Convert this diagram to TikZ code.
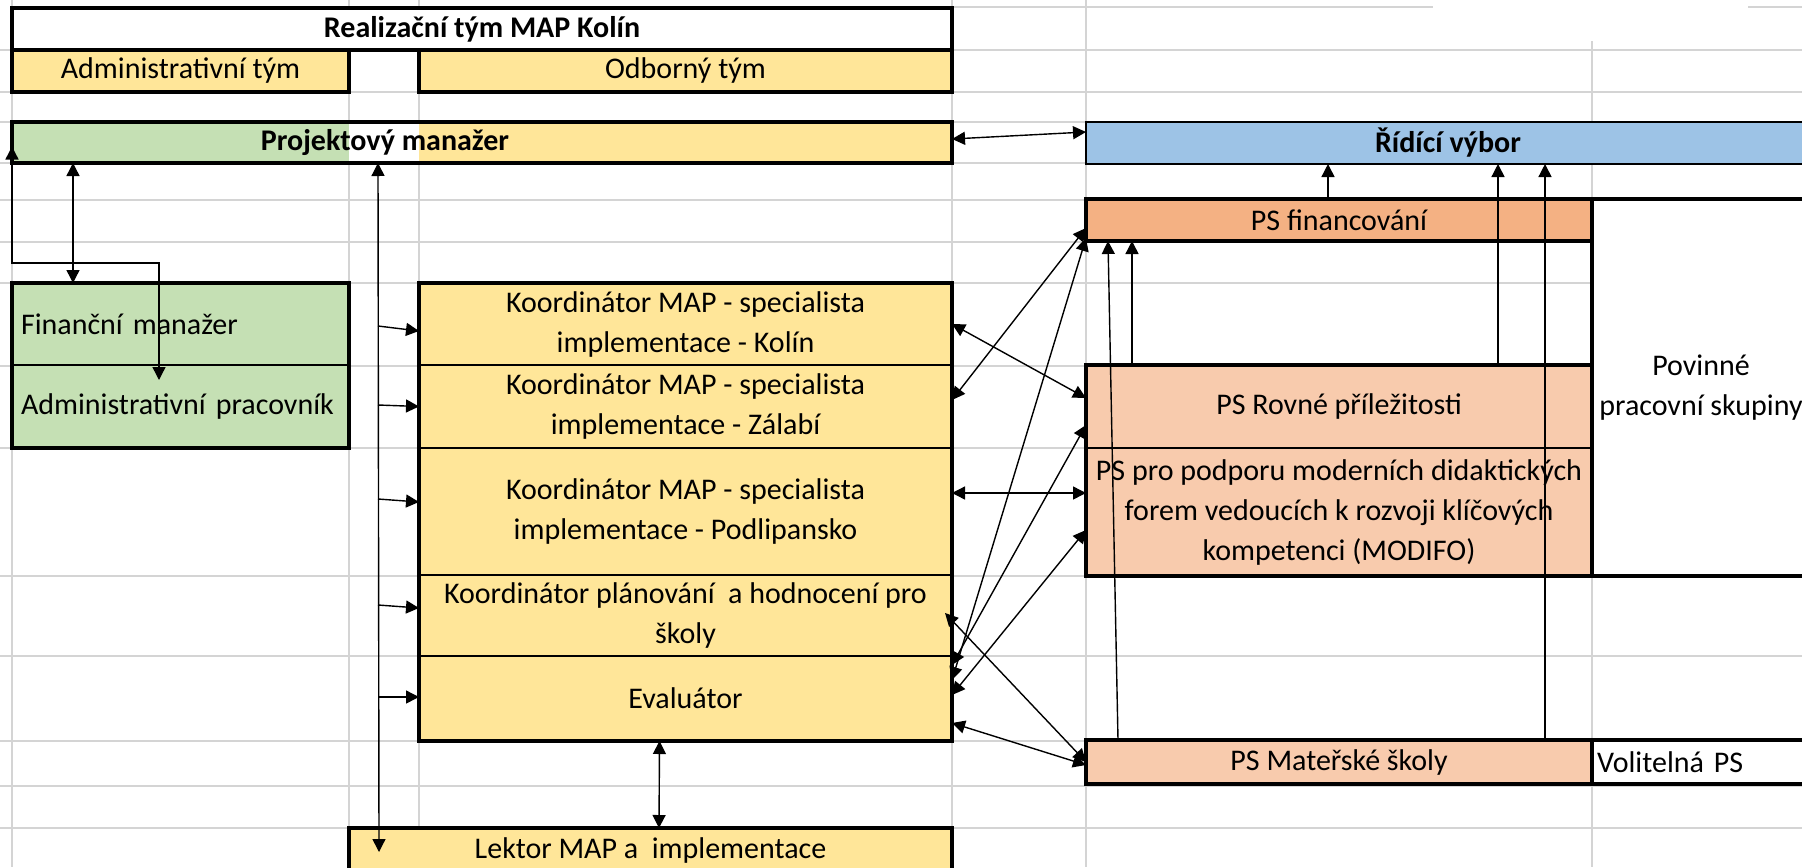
\documentclass[tikz,border=0pt]{standalone}
\usepackage{fontspec}
\setmainfont{Carlito}
\usetikzlibrary{arrows.meta}
\definecolor{yel}{HTML}{FFE699}
\definecolor{grn}{HTML}{C5E0B4}
\definecolor{blu}{HTML}{9DC3E6}
\definecolor{org}{HTML}{F4B183}
\definecolor{lor}{HTML}{F8CBAD}
\definecolor{grd}{HTML}{D4D4D4}
\begin{document}
\begin{tikzpicture}[x=0.5pt,y=-0.5pt,
  box/.style={draw=black, line width=0.8pt, inner sep=0pt, outer sep=0pt, align=center,
    anchor=north west, font=\fontsize{15}{20}\selectfont},
  thickb/.style={draw=black, line width=1.6pt},
  tbox/.style={box, line width=1.6pt},
  lbox/.style={box, align=left, inner xsep=4.5pt},
  gridl/.style={draw=grd, line width=0.8pt},
  con/.style={line width=0.7pt, {Triangle[length=6.5pt,width=6.5pt]}-{Triangle[length=6.5pt,width=6.5pt]}},
  one/.style={line width=0.7pt, -{Triangle[length=6.5pt,width=6.5pt]}},
]
\useasboundingbox (0,0) rectangle (1802,867);
\clip (0,0) rectangle (1802,867);
\fill[white] (0,0) rectangle (1802,867);
% spreadsheet grid
\foreach \x in {12,349,419,952,1086} \draw[gridl] (\x,0) -- (\x,867);
\draw[gridl] (1592,41) -- (1592,867);
\foreach \y in {50,92,122,163,200,242,283,366,448,576,656,741,786,828} \draw[gridl] (0,\y) -- (1802,\y);
\draw[gridl] (952,7) -- (1433,7);
\draw[gridl] (1748,7) -- (1802,7);

% top
\node[tbox, fill=white, minimum width=470pt, minimum height=21pt] (title) at (12,8) {\bfseries Realizační tým MAP Kolín};
\node[tbox, fill=yel, minimum width=168.5pt, minimum height=21pt] (admteam) at (12,50) {Administrativní tým};
\node[tbox, fill=yel, minimum width=266.5pt, minimum height=21pt] (odbteam) at (419,50) {Odborný tým};

\fill[grn] (12,122) rectangle (349,163);
\fill[white] (349,122) rectangle (419,163);
\fill[yel] (419,122) rectangle (952,163);
\node[tbox, minimum width=470pt, minimum height=20.5pt] (pm) at (12,122) {};
\node[font=\fontsize{15}{20}\selectfont\bfseries, inner sep=0pt] (pmlabel) at (385,143) {Projektový manažer};

\node[box, fill=blu, line width=1pt, minimum width=362pt, minimum height=21pt] (ridici) at (1086,122) {\bfseries Řídící výbor};

% right side
\node[tbox, fill=white, minimum width=109pt, minimum height=188.5pt] (povinne) at (1592,199) {Povinné\\pracovní skupiny};
\node[tbox, fill=org, minimum width=253pt, minimum height=21pt] (psfin) at (1086,199) {PS financování};
\node[box, fill=lor, minimum width=253pt, minimum height=41.5pt] (psrovne) at (1086,365) {PS Rovné příležitosti};
\node[box, fill=lor, minimum width=253pt, minimum height=64pt] (psmodifo) at (1086,448) {PS pro podporu moderních didaktických\\forem vedoucích k rozvoji klíčových\\kompetenci (MODIFO)};
\draw[thickb] (psrovne.north west) rectangle (psmodifo.south east);
\node[tbox, fill=white, text width=106pt, inner xsep=2.5pt, align=left, minimum height=22pt] (volitelna) at (1592,740) {Volitelná PS};
\node[tbox, fill=lor, minimum width=253pt, minimum height=22pt] (psmat) at (1086,740) {PS Mateřské školy};

% left side
\node[lbox, fill=grn, text width=159.5pt, minimum height=41pt] (finman) at (12,283) {Finanční manažer};
\node[lbox, fill=grn, text width=159.5pt, minimum height=41.5pt] (admprac) at (12,365) {Administrativní pracovník};
\draw[thickb] (finman.north west) rectangle (admprac.south east);

% yellow column
\node[box, fill=yel, minimum width=266.5pt, minimum height=41pt] (kolin) at (419,283) {Koordinátor MAP - specialista\\implementace - Kolín};
\node[box, fill=yel, minimum width=266.5pt, minimum height=41.5pt] (zalabi) at (419,365) {Koordinátor MAP - specialista\\implementace - Zálabí};
\node[box, fill=yel, minimum width=266.5pt, minimum height=63.5pt] (podlip) at (419,448) {Koordinátor MAP - specialista\\implementace - Podlipansko};
\node[box, fill=yel, minimum width=266.5pt, minimum height=40.5pt] (planovani) at (419,575) {Koordinátor plánování~ a hodnocení pro\\školy};
\node[box, fill=yel, minimum width=266.5pt, minimum height=42.5pt] (evaluator) at (419,656) {Evaluátor};
\draw[thickb] (kolin.north west) rectangle (evaluator.south east);

\node[tbox, fill=yel, minimum width=301.5pt, minimum height=22pt] (lektor) at (349,828) {Lektor MAP a~ implementace};

% connectors left
\draw[con] ([yshift=1.75pt]pm.east) -- ([yshift=5.5pt]ridici.west);
\draw[con] ([yshift=-2pt]pm.west) -- ++(0,116.5) -| ([xshift=73.5pt,yshift=-7.5pt]admprac.north west);
\draw[con] ([xshift=30.5pt]pm.south west) -- ([xshift=30.5pt]finman.north west);
\draw[con] ([xshift=183pt]pm.south west) -- ([xshift=15pt,yshift=-12pt]lektor.north west);
\coordinate (b1) at (378,326);
\coordinate (b2) at (378,405);
\coordinate (b3) at (378,499);
\coordinate (b4) at (378,605);
\coordinate (b5) at (378,697);
\draw[one] (b1) -- ([yshift=-3.5pt]kolin.west);
\draw[one] (b2) -- (zalabi.west);
\draw[one] (b3) -- ([yshift=4.75pt]podlip.west);
\draw[one] (b4) -- ([yshift=3.75pt]planovani.west);
\draw[one] (b5) -- ([yshift=0.75pt]evaluator.west);
\draw[con] ([xshift=-13pt]evaluator.south) -- ([xshift=4.25pt]lektor.north);

% connectors right
\draw[con] (kolin.east) -- ([yshift=4.25pt]psrovne.west);
\draw[con] ([yshift=3.25pt]zalabi.east) -- ([yshift=-4pt]psfin.west);
\draw[con] ([yshift=9.25pt]podlip.east) -- ([yshift=9.5pt]psmodifo.west);
\draw[con] ([xshift=-3.5pt,yshift=1.25pt]planovani.east) -- ([yshift=0pt]psmat.west);
\draw[con] ([yshift=-12.25pt]evaluator.east) -- ([yshift=-1.5pt]psmat.west);
\draw[con] ([yshift=9.25pt]evaluator.east) -- ([yshift=-9pt]psfin.west);
\draw[con] ([yshift=16.75pt]evaluator.east) -- ([yshift=-9.25pt]psrovne.west);
\draw[con] ([yshift=1.75pt]evaluator.east) -- ([yshift=-9pt]psmodifo.west);

% upward connectors
\draw[one] ([xshift=-5.5pt]psfin.north) -- ([xshift=-60pt]ridici.south);
\draw[one] ([xshift=-103.5pt]psrovne.north) -- ([xshift=-103.5pt]psfin.south);
\draw[one] ([xshift=-110.5pt]psmat.north) -- ([xshift=-115.5pt]psfin.south);
\draw[one] ([xshift=79.5pt]psrovne.north) -- ([xshift=25pt]ridici.south);
\draw[one] ([xshift=103pt]psmat.north) -- ([xshift=48.5pt]ridici.south);
\end{tikzpicture}
\end{document}
